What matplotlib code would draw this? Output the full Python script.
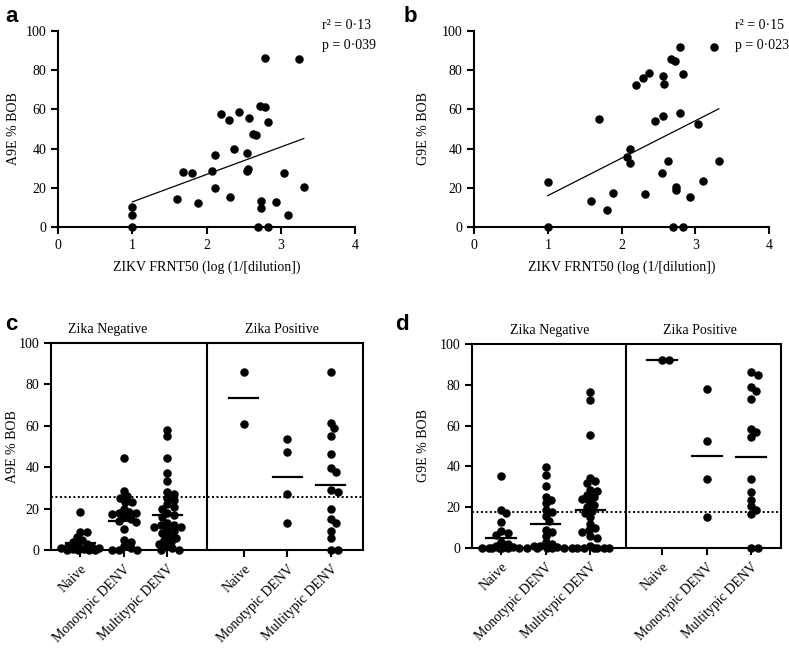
import numpy as np
import matplotlib.pyplot as plt

plt.rcParams['font.family'] = ['Liberation Serif', 'DejaVu Serif']
plt.rcParams['axes.linewidth'] = 1.5

# ---- panel a / b : A9E and G9E %BOB vs ZIKV FRNT50 ----
a_x = [1.00, 1.00, 1.00, 1.60, 1.69, 1.80, 1.89, 2.07, 2.11, 2.12, 2.19, 2.30, 2.31, 2.37,
       2.44, 2.55, 2.55, 2.56, 2.57, 2.63, 2.67, 2.70, 2.72, 2.73, 2.73, 2.79, 2.79, 2.83,
       2.83, 2.93, 3.04, 3.10, 3.25, 3.31]
a_y = [10.4, 6.1, 0.0, 14.1, 28.2, 27.3, 12.1, 28.7, 36.8, 20.0, 57.9, 54.8, 15.4, 39.7,
       58.9, 38.0, 28.7, 29.4, 55.5, 47.7, 46.9, 0.0, 61.5, 13.1, 9.5, 61.0, 86.2, 53.7,
       0.0, 12.9, 27.3, 6.1, 85.7, 20.2]
a_fit = (-1.2, 14.0)  # intercept, slope
a_stats = ['r\u00b2 = 0\u00b713', 'p = 0\u00b7039']

b_x = [1.00, 1.00, 1.59, 1.69, 1.80, 1.89, 2.08, 2.12, 2.11, 2.20, 2.29, 2.32, 2.37, 2.45,
       2.55, 2.56, 2.56, 2.57, 2.63, 2.67, 2.72, 2.70, 2.74, 2.74, 2.79, 2.79, 2.83, 2.84,
       2.93, 3.04, 3.11, 3.25, 3.32]
b_y = [22.9, 0.0, 13.2, 55.2, 8.7, 17.1, 35.8, 39.7, 32.4, 72.2, 76.2, 17.0, 78.6, 54.2,
       27.3, 76.9, 56.4, 72.8, 33.6, 85.9, 84.9, 0.0, 20.5, 18.8, 92.0, 58.2, 77.9, 0.0,
       15.5, 52.5, 23.6, 92.0, 33.6]
b_fit = (-3.1, 19.1)
b_stats = ['r\u00b2 = 0\u00b715', 'p = 0\u00b7023']

# ---- panel c / d : grouped dot plots ----
groups = ['Naive', 'Monotypic DENV', 'Multitypic DENV',
          'Naive', 'Monotypic DENV', 'Multitypic DENV']

c_vals = [
    [18.3, 8.8, 8.5, 6.5, 5.0, 4.0, 3.0, 2.5, 2.0, 1.5, 1.0, 1.0, 0.5, 0.5, 0, 0, 0, 0],
    [44.5, 28.5, 26, 25, 23, 23, 20, 18.5, 18, 18, 17.5, 16, 15, 14, 13.5, 10, 5, 4, 2, 1,
     0, 0, 0],
    [58, 55, 44.5, 37, 33.5, 28, 27, 25, 24, 22, 21, 20, 18, 17, 16, 13, 12, 12, 11, 11,
     10, 9, 8, 7, 6, 5, 4, 3, 2, 1, 0, 0],
    [85.8, 60.7],
    [53.6, 47.5, 27.0, 12.9],
    [86.1, 61.3, 58.8, 55.2, 46.5, 39.6, 37.8, 29.1, 28.2, 19.8, 15.1, 13.0, 9.3, 5.6, 0, 0],
]
c_means = [3.5, 14.0, 16.9, 73.3, 35.3, 31.6]
c_cut = 25.8

d_vals = [
    [35.3, 18.6, 17.0, 12.8, 8.5, 7.5, 6.5, 3.0, 2.0, 1.0, 0.5, 0, 0, 0, 0, 0, 0, 0],
    [39.5, 36, 30.5, 25, 23.5, 22, 18.5, 17.5, 15.5, 13, 9, 8, 6, 3, 2, 1, 1, 0.5,
     0, 0, 0, 0, 0],
    [76.5, 72.4, 55.2, 34.5, 33, 32, 28.5, 28, 26, 25, 24, 23, 21, 20, 18, 17, 15, 12, 10,
     9, 8, 6, 5, 1, 0, 0, 0, 0, 0, 0, 0],
    [92.0, 92.0],
    [77.9, 52.6, 33.7, 15.4],
    [86.1, 85.0, 77.1, 78.8, 73.0, 58.3, 56.7, 54.3, 33.7, 27.3, 23.5, 20.6, 18.6, 16.7, 0, 0],
]
d_means = [4.7, 11.9, 18.4, 92.0, 45.0, 44.4]
d_cut = 17.6

W, H = 789, 648
fig = plt.figure(figsize=(W / 100, H / 100), dpi=100)


def box(l, t, r, b):
    return [l / W, 1 - b / H, (r - l) / W, (b - t) / H]


def scatter_panel(ax, x, y, fit, stats, ylabel, lab_x, tx):
    ax.scatter(x, y, s=26, color='black', zorder=3, clip_on=False)
    xf = np.array([min(x), max(x)])
    ax.plot(xf, fit[0] + fit[1] * xf, color='black', lw=0.9)
    ax.set_xlim(0, 4)
    ax.set_ylim(0, 100)
    ax.set_xticks([0, 1, 2, 3, 4])
    ax.set_yticks([0, 20, 40, 60, 80, 100])
    for s in ['top', 'right']:
        ax.spines[s].set_visible(False)
    ax.tick_params(direction='out', length=5, width=1.5, labelsize=10)
    ax.set_xlabel('ZIKV FRNT50 (log (1/[dilution])', fontsize=10)
    ax.xaxis.set_label_coords(0.5, -0.17)
    ax.set_ylabel(ylabel, fontsize=10)
    ax.yaxis.set_label_coords(lab_x, 0.5)
    ax.text(tx, 1.03, stats[0], transform=ax.transAxes, fontsize=10, va='center')
    ax.text(tx, 0.925, stats[1], transform=ax.transAxes, fontsize=10, va='center')


def swarm(vals, ppx, ppy, d=6.8, limit=19):
    # simple beeswarm, kept within +-limit px; overlaps allowed when crowded
    vals = np.asarray(vals, float)
    offs = np.zeros(len(vals))
    placed = []
    gap = 0.85 * d
    cands = [0.0]
    k = 1
    while k * 0.25 * d <= limit:
        cands += [k * 0.25 * d, -k * 0.25 * d]
        k += 1
    for i in np.argsort(-vals):
        yp = vals[i] * ppy
        best, best_d = 0.0, -1
        for c in cands:
            md = min([np.hypot(c - px, yp - py) for px, py in placed], default=99)
            if md >= gap:
                best = c
                break
            if md > best_d + 0.01:
                best, best_d = c, md
        placed.append((best, yp))
        offs[i] = best / ppx
    return offs


def dot_panel(ax, vals, means, cut, pos, xlim, divider, ylabel, lab_x, titles_x, width_px):
    ax.set_xlim(*xlim)
    ax.set_ylim(0, 100)
    ppx = width_px / (xlim[1] - xlim[0])
    ppy = ax.get_position().height * H / 100
    for p, v, m in zip(pos, vals, means):
        off = swarm(v, ppx, ppy)
        ax.scatter(p + off, v, s=26, color='black', zorder=3, clip_on=False)
        ax.plot([p - 0.33, p + 0.33], [m, m], color='black', lw=1.6, zorder=4)
    ax.axhline(cut, color='black', lw=1.4, ls=(0, (1, 1.3)))
    ax.axvline(divider, color='black', lw=1.5)
    ax.set_xticks(pos)
    ax.set_xticklabels(groups, rotation=45, ha='right', rotation_mode='anchor')
    ax.set_yticks([0, 20, 40, 60, 80, 100])
    ax.tick_params(direction='out', length=5, width=1.5, labelsize=10)
    ax.tick_params(axis='x', pad=4)
    ax.set_ylabel(ylabel, fontsize=10)
    ax.yaxis.set_label_coords(lab_x, 0.5)
    ax.text(titles_x[0], 1.035, 'Zika Negative', transform=ax.transAxes,
            ha='center', va='bottom', fontsize=10)
    ax.text(titles_x[1], 1.035, 'Zika Positive', transform=ax.transAxes,
            ha='center', va='bottom', fontsize=10)


ax_a = fig.add_axes(box(58, 31, 355, 227))
scatter_panel(ax_a, a_x, a_y, a_fit, a_stats, 'A9E % BOB', -0.128, 0.888)

ax_b = fig.add_axes(box(474, 31, 769, 227))
scatter_panel(ax_b, b_x, b_y, b_fit, b_stats, 'G9E % BOB', -0.149, 0.885)

ax_c = fig.add_axes(box(51, 343, 363, 550))
dot_panel(ax_c, c_vals, c_means, c_cut, [0, 1, 2, 3.75, 4.75, 5.75], (-0.67, 6.49), 2.92,
          'A9E % BOB', -0.103, (0.183, 0.74), 312)

ax_d = fig.add_axes(box(472, 344, 781, 548))
dot_panel(ax_d, d_vals, d_means, d_cut, [0, 1, 2, 3.6, 4.6, 5.58], (-0.64, 6.25), 2.8,
          'G9E % BOB', -0.136, (0.252, 0.738), 309)

for lab, x, y in [('a', 5, 16), ('b', 404, 16), ('c', 5, 324), ('d', 395, 324)]:
    fig.text(x / W, 1 - y / H, lab, fontsize=16, fontweight='bold',
             family=['Liberation Sans', 'DejaVu Sans'], va='center')

fig.savefig('out.png', dpi=100)
